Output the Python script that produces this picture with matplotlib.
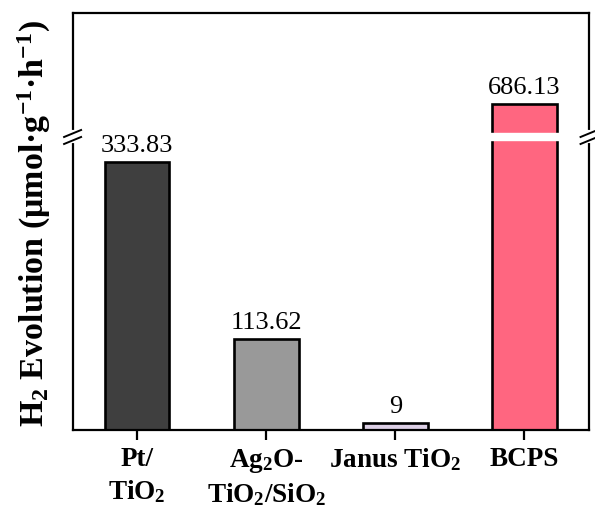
import numpy as np
import matplotlib.pyplot as plt

plt.rcParams['font.family'] = ['Liberation Serif', 'DejaVu Serif']
plt.rcParams['mathtext.fontset'] = 'custom'
plt.rcParams['mathtext.rm'] = 'Liberation Serif'
plt.rcParams['mathtext.bf'] = 'Liberation Serif:bold'
plt.rcParams['mathtext.default'] = 'bf'

# data
categories = ['Pt/\nTiO$_2$', 'Ag$_2$O-\nTiO$_2$/SiO$_2$', 'Janus TiO$_2$', 'BCPS']
values = [333.83, 113.62, 9, 686.13]
value_text = ['333.83', '113.62', '9', '686.13']
colors = ['#3f3f3f', '#999999', '#ddd0e6', '#ff6680']

low_lim = (0, 364.5)
high_lim = (645, 799)

W, H = 595, 515
fig = plt.figure(figsize=(W / 100, H / 100), dpi=100)
ax_high = fig.add_axes([0.122, 0.734, 0.868, 0.241])
ax_low = fig.add_axes([0.122, 0.165, 0.868, 0.569])
ax_low.set_zorder(3)
ax_low.patch.set_visible(False)

x = np.arange(len(categories))
for ax in (ax_low, ax_high):
    ax.bar(x, values, width=0.5, color=colors, edgecolor='black', linewidth=1.9)
    ax.set_xlim(-0.5, 3.5)
    ax.set_yticks([])
    for sp in ax.spines.values():
        sp.set_linewidth(1.6)

ax_low.set_ylim(*low_lim)
ax_high.set_ylim(*high_lim)
ax_low.spines['top'].set_visible(False)
ax_high.spines['bottom'].set_visible(False)
ax_high.set_xticks([])

ax_low.set_xticks(x)
ax_low.set_xticklabels(categories, fontsize=19.5, fontweight='bold')
ax_low.tick_params(axis='x', direction='out', length=7, width=1.6, pad=5)
for lab in ax_low.get_xticklabels():
    lab.set_linespacing(1.3)

# white gap across the broken bar
ax_low.axhspan(low_lim[1] - 4, low_lim[1], color='white', zorder=2)
ax_high.axhspan(high_lim[0], high_lim[0] + 5, color='white', zorder=2)

# value labels
for xi, v, t in zip(x, values, value_text):
    ax = ax_low if v < low_lim[1] else ax_high
    ax.annotate(t, (xi, v), xytext=(0, 3.5), textcoords='offset points',
                ha='center', va='bottom', fontsize=19, zorder=4)

# break marks on the spines (pixel offsets converted to figure fraction)
yb = 0.734
for xs in (0.122, 0.990):
    fig.add_artist(plt.Line2D([xs, xs], [yb - 4.5 / H, yb + 4.5 / H],
                              color='white', lw=3, zorder=10))
    for off in (-3.5, 3.5):
        fig.add_artist(plt.Line2D([xs - 8.5 / W, xs + 8.5 / W],
                                  [yb + (off - 3.5) / H, yb + (off + 3.5) / H],
                                  color='black', lw=1.4, zorder=11))

fig.text(0.058, 0.566, 'H$_2$ Evolution (μmol·g$^{-1}$·h$^{-1}$)', rotation=90,
         ha='center', va='center', fontsize=24.5, fontweight='bold')

fig.savefig('out.png', dpi=100)
